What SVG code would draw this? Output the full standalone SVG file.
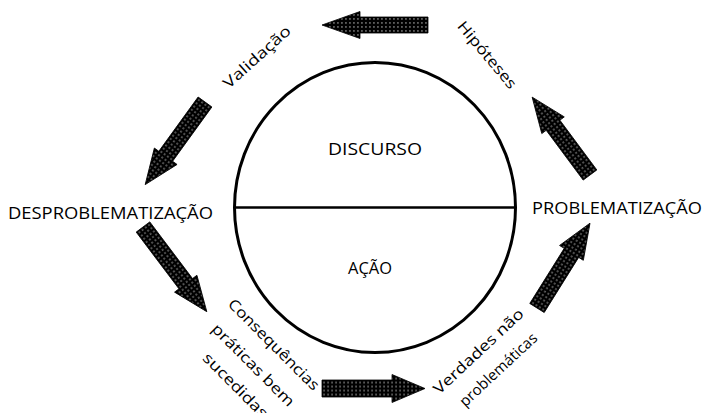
<svg xmlns="http://www.w3.org/2000/svg" width="704" height="413" viewBox="0 0 704 413">
<defs>
<pattern id="dots" width="4" height="4" patternUnits="userSpaceOnUse">
<rect width="4" height="4" fill="#000"/>
<rect x="1.5" y="1.5" width="1.1" height="1.1" fill="#fff"/>
</pattern>
<style>
.arrow{fill:url(#dots);stroke:#000;stroke-width:0.8}
.lbl{font-family:"Open Sans","Liberation Sans",sans-serif;fill:#000}
.big{font-size:16px}
.small{font-size:15px}
</style>
</defs>
<rect width="704" height="413" fill="#fff"/>
<g id="circle">
<ellipse cx="375" cy="207.5" rx="140.5" ry="145" fill="none" stroke="#000" stroke-width="3"/>
<line x1="235" y1="207.5" x2="515" y2="207.5" stroke="#000" stroke-width="2.5"/>
<text class="lbl big" x="375" y="155" text-anchor="middle" textLength="94" lengthAdjust="spacingAndGlyphs">DISCURSO</text>
<text class="lbl big" x="370" y="274" text-anchor="middle" textLength="44" lengthAdjust="spacingAndGlyphs">AÇÃO</text>
</g>
<g id="desproblematizacao">
<text class="lbl big" x="8" y="219" textLength="205" lengthAdjust="spacingAndGlyphs">DESPROBLEMATIZAÇÃO</text>
</g>
<g id="problematizacao">
<text class="lbl big" x="532" y="214" textLength="170" lengthAdjust="spacingAndGlyphs">PROBLEMATIZAÇÃO</text>
</g>
<g id="validacao">
<text class="lbl small" transform="translate(257,57) rotate(-42)" x="0" y="5" text-anchor="middle" textLength="85" lengthAdjust="spacingAndGlyphs">Validação</text>
</g>
<g id="hipoteses">
<text class="lbl small" transform="translate(487,55) rotate(50)" x="0" y="5" text-anchor="middle" textLength="83" lengthAdjust="spacingAndGlyphs">Hipóteses</text>
</g>
<g id="consequencias">
<text class="lbl small" transform="translate(275,346) rotate(45)" text-anchor="middle">
<tspan x="0" y="5" textLength="122" lengthAdjust="spacingAndGlyphs">Consequências</tspan>
<tspan x="0" y="34" textLength="110" lengthAdjust="spacingAndGlyphs">práticas bem</tspan>
<tspan x="0" y="61" textLength="85" lengthAdjust="spacingAndGlyphs">sucedidas</tspan>
</text>
</g>
<g id="verdades">
<text class="lbl small" transform="translate(480,350) rotate(-43)" text-anchor="middle">
<tspan x="0" y="5" textLength="117" lengthAdjust="spacingAndGlyphs">Verdades não</tspan>
<tspan x="0" y="32" textLength="100" lengthAdjust="spacingAndGlyphs">problemáticas</tspan>
</text>
</g>
<g id="connectors">
<polygon class="arrow" transform="translate(428,25) rotate(180)" points="0,-8 68,-8 68,-13.5 106,0 68,13.5 68,8 0,8"/>
<polygon class="arrow" transform="translate(322,388.5) rotate(0)" points="0,-8.5 70,-8.5 70,-14 103,0 70,14 70,8.5 0,8.5"/>
<polygon class="arrow" transform="translate(205,102) rotate(125.9)" points="0,-8.5 67,-8.5 67,-14 102,0 67,14 67,8.5 0,8.5"/>
<polygon class="arrow" transform="translate(143,227) rotate(53)" points="0,-8.5 71,-8.5 71,-14 106,0 71,14 71,8.5 0,8.5"/>
<polygon class="arrow" transform="translate(590,175) rotate(-126.6)" points="0,-8.5 62,-8.5 62,-14 97,0 62,14 62,8.5 0,8.5"/>
<polygon class="arrow" transform="translate(537,308) rotate(-58)" points="0,-8.5 65,-8.5 65,-14 100,0 65,14 65,8.5 0,8.5"/>
</g>
</svg>
